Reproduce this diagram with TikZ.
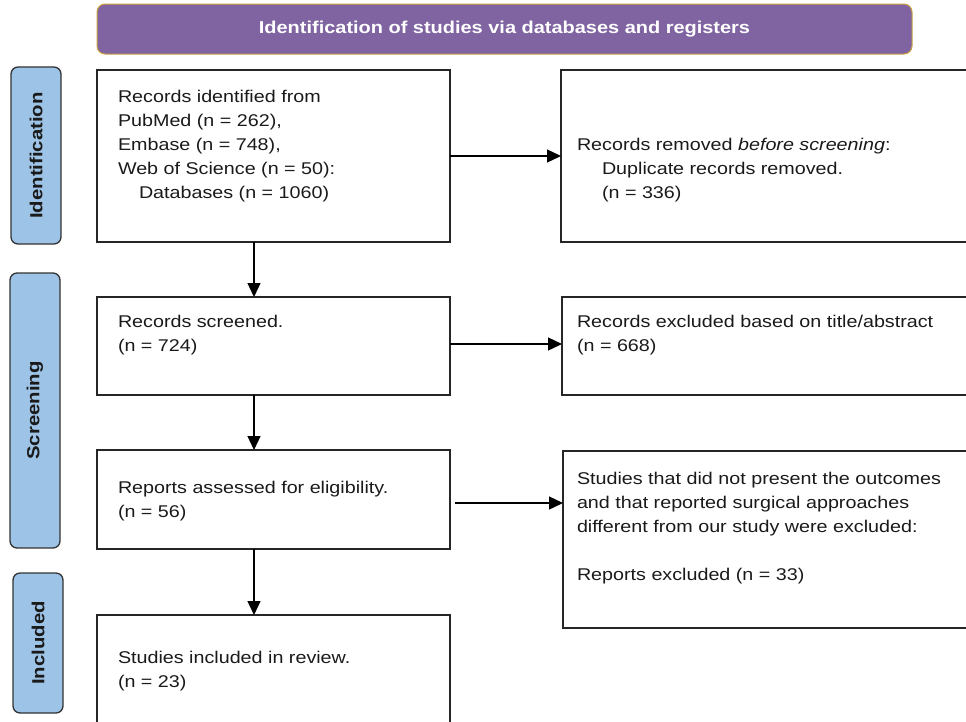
\documentclass[tikz,border=0pt]{standalone}
\usepackage{fontspec}
\setmainfont{Liberation Sans}[FakeStretch=1.16]
\usetikzlibrary{arrows.meta}
\definecolor{hdrfill}{HTML}{8064A2}
\definecolor{hdrline}{HTML}{C9A23F}
\definecolor{sidefill}{HTML}{9DC3E6}
\definecolor{ink}{HTML}{1A1A1A}
\begin{document}
\begin{tikzpicture}[x=1pt,y=-1pt,
  box/.style={draw=black!85, line width=1.4pt, rectangle, inner sep=0pt, outer sep=0pt},
  txt/.style={anchor=north west, inner sep=0pt, outer sep=0pt, align=left, text=ink, font=\fontsize{17}{24}\selectfont},
  hdrbox/.style={draw=hdrline, line width=1pt, fill=hdrfill, rounded corners=8pt, text=white, font=\bfseries\fontsize{17.2}{20}\selectfont, minimum width=815pt, minimum height=50pt, inner sep=0pt},
  side/.style={draw=black!80, line width=1.3pt, fill=sidefill, rounded corners=7pt, rotate=90, text=ink, font=\bfseries\fontsize{17.5}{20}\selectfont, minimum height=50pt, inner sep=0pt},
  arr/.style={draw=black, line width=1.3pt, -{Triangle[length=14pt,width=13pt]}}
]
\useasboundingbox (0,0) rectangle (966,721);
\clip (0,0) rectangle (966,721);

% header
\node[hdrbox] (hdr) at (504.5,29) {Identification of studies via databases and registers};

% side labels
\node[side, minimum width=177pt] (lid) at (36,155.5) {Identification};
\node[side, minimum width=275pt] (lscr) at (35,410.5) {Screening};
\node[side, minimum width=140pt] (linc) at (38,643) {Included};

% boxes
\node[box, minimum width=353pt, minimum height=172pt] (b1) at (273.5,156) {};
\node[box, minimum width=419pt, minimum height=172pt] (r1) at (770.5,156) {};
\node[box, minimum width=353pt, minimum height=98pt] (b3) at (273.5,346) {};
\node[box, minimum width=418pt, minimum height=98pt] (r3) at (771,346) {};
\node[box, minimum width=353pt, minimum height=99pt] (b4) at (273.5,499.5) {};
\node[box, minimum width=417pt, minimum height=177pt] (r4) at (771.5,539.5) {};
\node[box, minimum width=353pt, minimum height=120pt] (b5) at (273.5,675) {};

% texts
\node[txt] (t1) at (118,85.2) {\strut Records identified from\\PubMed (n = 262),\\Embase (n = 748),\\Web of Science (n = 50):\\\hspace*{21pt}Databases (n = 1060)};
\node[txt] (t2) at (577,133.2) {\strut Records removed \textit{before screening}:\\\hspace*{25pt}Duplicate records removed.\\\hspace*{25pt}(n = 336)};
\node[txt] (t3) at (118,310.2) {\strut Records screened.\\(n = 724)};
\node[txt] (t3r) at (577,310.2) {\strut Records excluded based on title/abstract\\(n = 668)};
\node[txt] (t4) at (118,476.2) {\strut Reports assessed for eligibility.\\(n = 56)};
\node[txt] (t4r) at (577,467.2) {\strut Studies that did not present the outcomes\\and that reported surgical approaches\\different from our study were excluded:\\[24pt]Reports excluded (n = 33)};
\node[txt] (t5) at (118,646.2) {\strut Studies included in review.\\(n = 23)};

% connectors
\coordinate (ax) at (254,0);
\draw[arr] (b1.south -| ax) -- (b3.north -| ax);
\draw[arr] (b3.south -| ax) -- (b4.north -| ax);
\draw[arr] (b4.south -| ax) -- (b5.north -| ax);
\draw[arr] (b1.east) -- (r1.west);
\draw[arr] ([yshift=2pt]b3.east) -- ([yshift=2pt]b3.east -| r3.west);
\draw[arr] ([xshift=5pt,yshift=-3.5pt]b4.east) -- ([yshift=-3.5pt]b4.east -| r4.west);
\end{tikzpicture}
\end{document}
